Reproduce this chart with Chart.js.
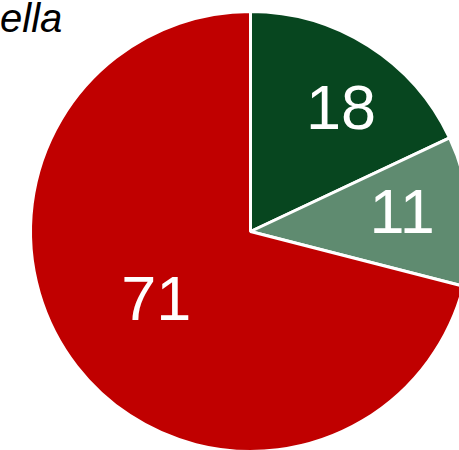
<!DOCTYPE html>
<html lang="en">
<head>
    <meta charset="UTF-8">
    <title>Pie</title>
    <script src="https://cdn.jsdelivr.net/npm/chart.js"></script>
    <style>
        html, body { margin: 0; padding: 0; background: #fff; overflow: hidden; width: 459px; height: 450px; }
        .title { position: absolute; left: 0; top: -4px; font-family: "Liberation Sans", Arial, sans-serif; font-style: italic; font-size: 40px; color: #000; }
        .wrap { position: absolute; left: 19px; top: 0px; width: 463px; height: 463px; }
    </style>
</head>
<body>
    <div class="title">ella</div>
    <div class="wrap"><canvas id="pie"></canvas></div>

    <script>
        const labels = ["A", "B", "C"];
        const values = [18, 11, 71];
        const colors = ["#07461F", "#5F8B70", "#C00000"];

        // where each number sits: fraction of radius + small pixel nudge
        const labelPos = [
            { r: 0.70, dx: 8, dy: 10 },
            { r: 0.72, dx: -6, dy: -1 },
            { r: 0.53, dx: -2, dy: 0 }
        ];

        const valueLabels = {
            id: 'valueLabels',
            afterDatasetsDraw(chart) {
                const ctx = chart.ctx;
                const meta = chart.getDatasetMeta(0);
                ctx.save();
                ctx.fillStyle = '#fff';
                ctx.font = '63px "Liberation Sans", Arial, sans-serif';
                ctx.textAlign = 'center';
                ctx.textBaseline = 'middle';
                meta.data.forEach((arc, i) => {
                    const mid = (arc.startAngle + arc.endAngle) / 2;
                    const r = arc.outerRadius * labelPos[i].r;
                    const x = arc.x + Math.cos(mid) * r + labelPos[i].dx;
                    const y = arc.y + Math.sin(mid) * r + labelPos[i].dy;
                    ctx.fillText(String(values[i]), x, y);
                });
                ctx.restore();
            }
        };

        new Chart(document.getElementById('pie'), {
            type: 'pie',
            data: {
                labels: labels,
                datasets: [{
                    data: values,
                    backgroundColor: colors,
                    borderColor: '#fff',
                    borderWidth: 3
                }]
            },
            options: {
                responsive: true,
                maintainAspectRatio: false,
                animation: false,
                layout: { padding: 10 },
                plugins: {
                    legend: { display: false },
                    tooltip: { enabled: false }
                }
            },
            plugins: [valueLabels]
        });
    </script>
</body>
</html>
